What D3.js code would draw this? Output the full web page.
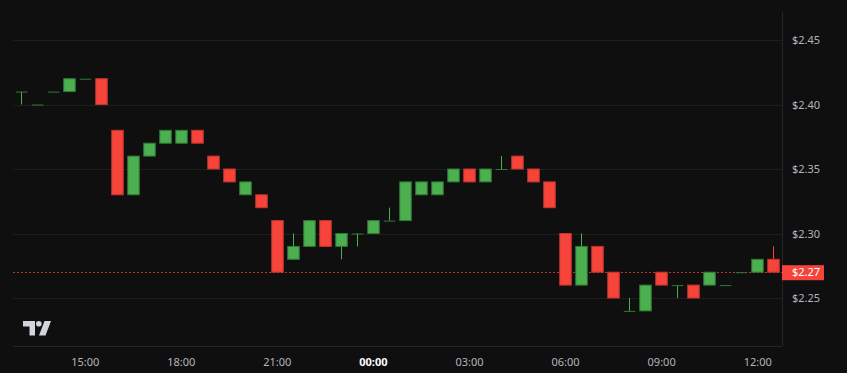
<!DOCTYPE html>
<html>
<head>
<meta charset="utf-8">
<script src="https://cdn.jsdelivr.net/npm/d3@7"></script>
<style>
  html, body { margin: 0; padding: 0; background: #0f0f0f; }
  svg { display: block; }
</style>
</head>
<body>
<svg id="chart"></svg>
<script>
// half-hourly candles, day 1 13:00 -> day 2 12:30
const times = ["13:00","13:30","14:00","14:30","15:00","15:30","16:00","16:30","17:00","17:30","18:00","18:30",
  "19:00","19:30","20:00","20:30","21:00","21:30","22:00","22:30","23:00","23:30",
  "00:00","00:30","01:00","01:30","02:00","02:30","03:00","03:30","04:00","04:30","05:00","05:30",
  "06:00","06:30","07:00","07:30","08:00","08:30","09:00","09:30","10:00","10:30","11:00","11:30","12:00","12:30"];
const opens  = [2.41,2.40,2.41,2.41,2.42,2.42,2.38,2.33,2.36,2.37,2.37,2.38,
  2.36,2.35,2.33,2.33,2.31,2.28,2.29,2.31,2.29,2.30,
  2.30,2.31,2.31,2.33,2.33,2.34,2.35,2.34,2.35,2.36,2.35,2.34,
  2.30,2.26,2.29,2.27,2.24,2.24,2.27,2.26,2.26,2.26,2.26,2.27,2.27,2.28];
const highs  = [2.41,2.40,2.41,2.42,2.42,2.42,2.38,2.36,2.37,2.38,2.38,2.38,
  2.36,2.35,2.34,2.33,2.31,2.30,2.31,2.31,2.30,2.30,
  2.31,2.32,2.34,2.34,2.34,2.35,2.35,2.35,2.36,2.36,2.35,2.34,
  2.30,2.30,2.29,2.27,2.25,2.26,2.27,2.26,2.26,2.27,2.26,2.27,2.28,2.29];
const lows   = [2.40,2.40,2.41,2.41,2.42,2.40,2.33,2.33,2.36,2.37,2.37,2.37,
  2.35,2.34,2.33,2.32,2.27,2.28,2.29,2.29,2.28,2.29,
  2.30,2.31,2.31,2.33,2.33,2.34,2.34,2.34,2.35,2.35,2.34,2.32,
  2.26,2.26,2.27,2.25,2.24,2.24,2.26,2.25,2.25,2.26,2.26,2.27,2.27,2.27];
const closes = [2.41,2.40,2.41,2.42,2.42,2.40,2.33,2.36,2.37,2.38,2.38,2.37,
  2.35,2.34,2.34,2.32,2.27,2.29,2.31,2.29,2.30,2.30,
  2.31,2.31,2.34,2.34,2.34,2.35,2.34,2.35,2.35,2.35,2.34,2.32,
  2.26,2.29,2.27,2.25,2.24,2.26,2.26,2.26,2.25,2.27,2.26,2.27,2.28,2.27];
const priceTicks = [2.25, 2.30, 2.35, 2.40, 2.45];
const lastPrice = 2.27;

const width = 847, height = 373;
const plot = { left: 13, right: 782, top: 12, bottom: 346 };

const up = "#4caf50", upDark = "#2f7a33";
const down = "#f6443a", downDark = "#c3352d";

// times -> dates (roll over to the next day after 23:30)
let day = 1;
const dates = times.map((t, i) => {
  if (i > 0 && t === "00:00") day = 2;
  const [h, m] = t.split(":").map(Number);
  return new Date(2024, 0, day, h, m);
});

const candles = dates.map((d, i) => ({
  date: d, open: opens[i], high: highs[i], low: lows[i], close: closes[i]
}));

const svg = d3.select("#chart").attr("width", width).attr("height", height);
svg.append("rect").attr("width", width).attr("height", height).attr("fill", "#0f0f0f");

const x = d3.scaleTime()
  .domain([new Date(2024, 0, 1, 15, 0), new Date(2024, 0, 2, 12, 0)])
  .range([84.7, 757.2]);

const y = d3.scaleLinear()
  .domain([2.25, 2.45])
  .range([298, 40]);

// horizontal grid
svg.append("g")
  .selectAll("line")
  .data(priceTicks)
  .join("line")
  .attr("x1", plot.left).attr("x2", plot.right)
  .attr("y1", d => Math.round(y(d)) + 0.5).attr("y2", d => Math.round(y(d)) + 0.5)
  .attr("stroke", "#1e1e1e");

// frame lines
svg.append("line")
  .attr("x1", plot.right + 0.5).attr("x2", plot.right + 0.5)
  .attr("y1", plot.top).attr("y2", plot.bottom)
  .attr("stroke", "#262626");
svg.append("line")
  .attr("x1", plot.left).attr("x2", plot.right)
  .attr("y1", plot.bottom + 0.5).attr("y2", plot.bottom + 0.5)
  .attr("stroke", "#262626");

// last price dotted line
svg.append("line")
  .attr("x1", plot.left).attr("x2", plot.right)
  .attr("y1", Math.round(y(lastPrice)) + 0.5).attr("y2", Math.round(y(lastPrice)) + 0.5)
  .attr("stroke", down)
  .attr("stroke-opacity", 0.75)
  .attr("stroke-dasharray", "2,2");

// candles
const bw = 11.5;
const g = svg.append("g");

g.selectAll(".wick")
  .data(candles.filter(d => d.high !== d.low))
  .join("line")
  .attr("class", "wick")
  .attr("x1", d => Math.round(x(d.date)) + 0.5).attr("x2", d => Math.round(x(d.date)) + 0.5)
  .attr("y1", d => y(d.high)).attr("y2", d => y(d.low))
  .attr("stroke", d => d.close < d.open ? down : up)
  .attr("stroke-width", 1);

g.selectAll(".body")
  .data(candles)
  .join("rect")
  .attr("class", "body")
  .attr("x", d => Math.round(x(d.date)) + 0.5 - bw / 2)
  .attr("width", bw)
  .attr("y", d => y(Math.max(d.open, d.close)))
  .attr("height", d => Math.max(1, Math.abs(y(d.open) - y(d.close))))
  .attr("fill", d => d.close < d.open ? down : (d.close === d.open ? upDark : up))
  .attr("stroke", d => d.close < d.open ? downDark : upDark)
  .attr("stroke-width", d => d.close === d.open ? 0 : 1);

// time axis
const xAxis = svg.append("g")
  .attr("transform", `translate(0,${plot.bottom})`)
  .call(d3.axisBottom(x)
    .ticks(d3.timeHour.every(3))
    .tickSize(0)
    .tickPadding(12)
    .tickFormat(d3.timeFormat("%H:%M")));
xAxis.select(".domain").remove();
xAxis.selectAll("text")
  .attr("fill", d => d.getHours() === 0 ? "#ffffff" : "#b2b5be")
  .attr("font-weight", d => d.getHours() === 0 ? "bold" : "normal")
  .attr("font-family", "'Noto Sans', sans-serif")
  .attr("font-size", 11);

// price axis
const yAxis = svg.append("g")
  .attr("transform", `translate(${plot.right},0)`)
  .call(d3.axisRight(y)
    .tickValues(priceTicks)
    .tickSize(0)
    .tickPadding(10)
    .tickFormat(d => "$" + d3.format(".2f")(d)));
yAxis.select(".domain").remove();
yAxis.selectAll("text")
  .attr("fill", "#b2b5be")
  .attr("font-family", "'Noto Sans', sans-serif")
  .attr("font-size", 11);

// last price label
const lp = svg.append("g").attr("transform", `translate(${plot.right},${y(lastPrice)})`);
lp.append("rect")
  .attr("x", 0).attr("y", -7).attr("width", 42).attr("height", 15)
  .attr("fill", down);
lp.append("text")
  .attr("x", 10).attr("y", 0).attr("dy", "0.34em")
  .attr("fill", "#ffffff")
  .attr("font-family", "'Noto Sans', sans-serif")
  .attr("font-size", 11)
  .text("$" + d3.format(".2f")(lastPrice));

// logo
const logo = svg.append("g").attr("transform", "translate(23,321)").attr("fill", "#d1d4dc");
logo.append("path").attr("d", "M0,0 H12 V14.5 H6.5 V5.5 H0 Z");
logo.append("circle").attr("cx", 15.8).attr("cy", 2.8).attr("r", 2.8);
logo.append("path").attr("d", "M21.5,0 H28 L22.5,14.5 H16 Z");
</script>
</body>
</html>
